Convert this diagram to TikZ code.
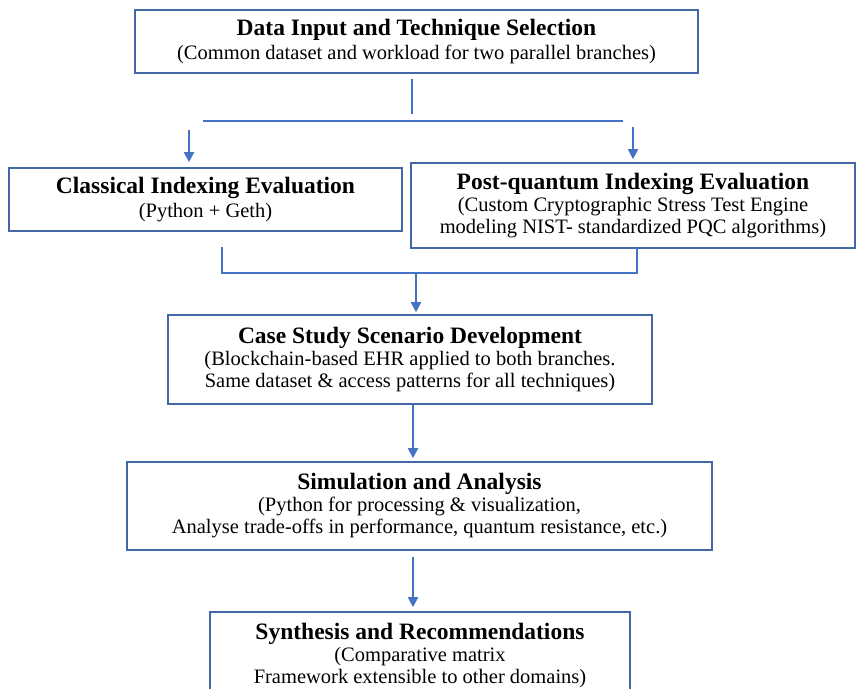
\documentclass[tikz,border=0pt]{standalone}
\usepackage{fontspec}
\setmainfont{Liberation Serif}
\usepackage{tikz}
\usetikzlibrary{arrows.meta,positioning,calc}
\definecolor{boxblue}{RGB}{66,104,168}
\definecolor{linkblue}{RGB}{68,114,196}
\newcommand{\stagetitle}[1]{{\fontsize{23.5}{25}\selectfont\bfseries #1}}

\begin{document}
\begin{tikzpicture}[
  x=1pt, y=-1pt,
  box/.style={draw=boxblue, line width=1.6pt, align=center, inner sep=0pt,
    font=\fontsize{20.5}{22}\selectfont},
  link/.style={draw=linkblue, line width=1.8pt},
  arr/.style={link, -{Triangle[length=10pt, width=10pt]}}
]
  \useasboundingbox (0,0) rectangle (864,688);
  % stages
  \node[box, minimum width=563pt, minimum height=63pt] (input) at (416.5,41.5)
    {\stagetitle{Data Input and Technique Selection}\\[2pt]
     (Common dataset and workload for two parallel branches)};
  \node[box, minimum width=393pt, minimum height=63pt] (classic) at (205.5,199.5)
    {\stagetitle{Classical Indexing Evaluation}\\[2pt]
     (Python + Geth)};
  \node[box, minimum width=444pt, minimum height=85pt] (pqc) at (633,205.5)
    {\stagetitle{Post-quantum Indexing Evaluation}\\
     (Custom Cryptographic Stress Test Engine\\
     modeling NIST- standardized PQC algorithms)};
  \node[box, minimum width=484pt, minimum height=89pt] (case) at (410,359.5)
    {\stagetitle{Case Study Scenario Development}\\
     (Blockchain-based EHR applied to both branches.\\
     Same dataset \& access patterns for all techniques)};
  \node[box, minimum width=585pt, minimum height=88pt] (sim) at (419.5,506)
    {\stagetitle{Simulation and Analysis}\\
     (Python for processing \& visualization,\\
     Analyse trade-offs in performance, quantum resistance, etc.)};
  \node[box, minimum width=420pt, minimum height=88pt] (synth) at (420,656)
    {\stagetitle{Synthesis and Recommendations}\\
     (Comparative matrix\\
     Framework extensible to other domains)};

  % split into two branches
  \coordinate (splittop) at (412,79);
  \coordinate (splitbot) at (412,114);
  \coordinate (forkL) at (203,121);
  \coordinate (forkR) at (623,121);
  \coordinate (arrL) at (189,130);
  \coordinate (arrR) at (633,127);
  \draw[link] (splittop) -- (splitbot);
  \draw[link] (forkL) -- (forkR);
  \draw[arr, shorten >=5pt] (arrL) -- (arrL |- classic.north);
  \draw[arr, shorten >=3pt] (arrR) -- (arrR |- pqc.north);

  % merge back
  \coordinate (mergeL) at (222,247);
  \coordinate (mergeR) at (637,248);
  \coordinate (join) at (416,273);
  \draw[link] (mergeL) |- (join) -| (mergeR);
  \draw[arr, shorten >=2pt] (join) -- (join |- case.north);

  % down the column
  \coordinate (down1) at (413,405);
  \coordinate (down2) at (413,557);
  \draw[arr, shorten >=3pt] (down1) -- (down1 |- sim.north);
  \draw[arr, shorten >=4pt] (down2) -- (down2 |- synth.north);
\end{tikzpicture}
\end{document}
